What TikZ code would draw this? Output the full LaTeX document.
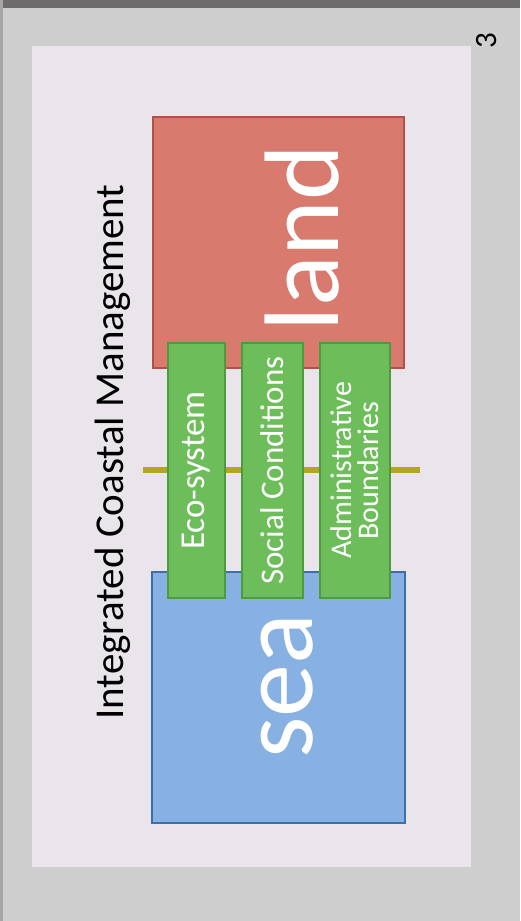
\documentclass[tikz,border=0pt]{standalone}
\usepackage{fontspec}
\setmainfont{Carlito}
\definecolor{bgout}{HTML}{CFCECF}
\definecolor{topbar}{HTML}{6E6B6C}
\definecolor{panel}{HTML}{E9E5EA}
\definecolor{landfill}{HTML}{D97A6E}
\definecolor{landdraw}{HTML}{B0524A}
\definecolor{seafill}{HTML}{86B1E2}
\definecolor{seadraw}{HTML}{3F6EA8}
\definecolor{greenfill}{HTML}{6DBE5B}
\definecolor{greendraw}{HTML}{4E9A3F}
\definecolor{olive}{HTML}{B4A524}
\tikzset{
  bigbox/.style={draw, line width=2pt, inner sep=0pt, rotate=90},
  greenbox/.style={draw=greendraw, fill=greenfill, line width=1.2pt, inner sep=0pt, rotate=90,
     minimum width=255pt, text=white, font=\fontsize{33}{31}\selectfont, align=center},
  bigword/.style={text=white, rotate=90, font=\fontsize{106}{106}\selectfont, inner sep=0pt},
}
\begin{document}
\begin{tikzpicture}[x=1pt,y=-1pt]
\useasboundingbox (0,0) rectangle (520,921);
\fill[bgout] (0,0) rectangle (520,921);
\fill[topbar] (0,0) rectangle (520,8);
\fill[gray!70] (0,0) rectangle (3,921);
\node[fill=panel, minimum width=439pt, minimum height=821pt, inner sep=0pt] (panel) at (251.5,456.5) {};
\node[rotate=90, font=\fontsize{31}{31}\selectfont, inner sep=0pt] (num) at (487,41) {3};
\node[rotate=90, font=\fontsize{41}{41}\selectfont, inner sep=0pt] (title) at (113,452) {Integrated Coastal Management};
\node[bigbox, draw=landdraw, fill=landfill, minimum width=251pt, minimum height=251pt] (land) at (278.5,242.5) {};
\node[bigbox, draw=seadraw, fill=seafill, minimum width=251pt, minimum height=253pt] (sea) at (278.5,697.5) {};
\node[bigword] (landtxt) at (302,238) {land};
\node[bigword] (seatxt) at (287,686) {sea};
\coordinate (yl) at (143,470);
\coordinate (yr) at (420,470);
\draw[olive, line width=6pt] (yl) -- (yr);
\node[greenbox, minimum height=57pt, font=\fontsize{35}{31}\selectfont] (eco) at (196.5,470.5) {Eco-system};
\node[greenbox, minimum height=61pt] (soc) at (272.5,470.5) {Social Conditions};
\node[greenbox, minimum height=70pt, font=\fontsize{30}{27}\selectfont] (adm) at (355,470.5) {Administrative\\Boundaries};
\end{tikzpicture}
\end{document}
